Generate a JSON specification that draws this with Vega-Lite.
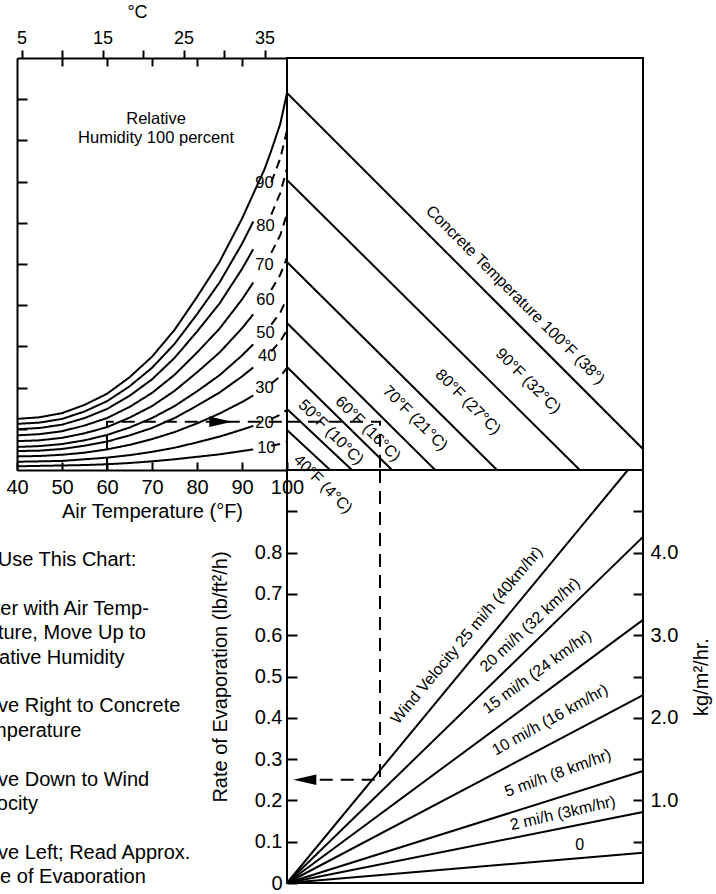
{
  "$schema": "https://vega.github.io/schema/vega-lite/v6.json",
  "background": "white",
  "padding": {"left": 0, "top": 3, "right": 0, "bottom": 0},
  "columns": 2,
  "spacing": 0,
  "bounds": "flush",
  "config": {
    "font": "Liberation Sans",
    "view": {"stroke": "black", "strokeWidth": 2},
    "axis": {
      "domainColor": "black", "domainWidth": 2, "tickColor": "black", "tickWidth": 2,
      "labelColor": "black", "titleColor": "black", "labelFontSize": 20, "titleFontSize": 20,
      "titleFontWeight": "normal", "labelOverlap": false, "labelFlush": false, "grid": false
    },
    "text": {"color": "black"},
    "line": {"color": "black", "strokeWidth": 2}
  },
  "datasets": {
    "rh": [
      {"rh": 100, "part": "solid", "airF": 40, "vp": 0.124}, {"rh": 100, "part": "solid", "airF": 45, "vp": 0.128},
      {"rh": 100, "part": "solid", "airF": 50, "vp": 0.138}, {"rh": 100, "part": "solid", "airF": 55, "vp": 0.158},
      {"rh": 100, "part": "solid", "airF": 60, "vp": 0.185}, {"rh": 100, "part": "solid", "airF": 65, "vp": 0.225},
      {"rh": 100, "part": "solid", "airF": 70, "vp": 0.275}, {"rh": 100, "part": "solid", "airF": 75, "vp": 0.34},
      {"rh": 100, "part": "solid", "airF": 80, "vp": 0.42}, {"rh": 100, "part": "solid", "airF": 85, "vp": 0.505},
      {"rh": 100, "part": "solid", "airF": 90, "vp": 0.61}, {"rh": 100, "part": "solid", "airF": 92.5, "vp": 0.67},
      {"rh": 100, "part": "solid", "airF": 95, "vp": 0.73}, {"rh": 100, "part": "solid", "airF": 96.5, "vp": 0.775},
      {"rh": 100, "part": "solid", "airF": 98.5, "vp": 0.84}, {"rh": 100, "part": "solid", "airF": 100, "vp": 0.915},

      {"rh": 90, "part": "solid", "airF": 40, "vp": 0.112}, {"rh": 90, "part": "solid", "airF": 45, "vp": 0.115},
      {"rh": 90, "part": "solid", "airF": 50, "vp": 0.124}, {"rh": 90, "part": "solid", "airF": 55, "vp": 0.142},
      {"rh": 90, "part": "solid", "airF": 60, "vp": 0.167}, {"rh": 90, "part": "solid", "airF": 65, "vp": 0.203},
      {"rh": 90, "part": "solid", "airF": 70, "vp": 0.248}, {"rh": 90, "part": "solid", "airF": 75, "vp": 0.306},
      {"rh": 90, "part": "solid", "airF": 80, "vp": 0.378}, {"rh": 90, "part": "solid", "airF": 85, "vp": 0.455},
      {"rh": 90, "part": "solid", "airF": 90, "vp": 0.549}, {"rh": 90, "part": "solid", "airF": 92.5, "vp": 0.603},
      {"rh": 90, "part": "dashed", "airF": 96.5, "vp": 0.698}, {"rh": 90, "part": "dashed", "airF": 98.5, "vp": 0.756},
      {"rh": 90, "part": "dashed", "airF": 100, "vp": 0.824},

      {"rh": 80, "part": "solid", "airF": 40, "vp": 0.099}, {"rh": 80, "part": "solid", "airF": 45, "vp": 0.102},
      {"rh": 80, "part": "solid", "airF": 50, "vp": 0.11}, {"rh": 80, "part": "solid", "airF": 55, "vp": 0.126},
      {"rh": 80, "part": "solid", "airF": 60, "vp": 0.148}, {"rh": 80, "part": "solid", "airF": 65, "vp": 0.18},
      {"rh": 80, "part": "solid", "airF": 70, "vp": 0.22}, {"rh": 80, "part": "solid", "airF": 75, "vp": 0.272},
      {"rh": 80, "part": "solid", "airF": 80, "vp": 0.336}, {"rh": 80, "part": "solid", "airF": 85, "vp": 0.404},
      {"rh": 80, "part": "solid", "airF": 90, "vp": 0.488}, {"rh": 80, "part": "solid", "airF": 92.5, "vp": 0.536},
      {"rh": 80, "part": "dashed", "airF": 96.5, "vp": 0.62}, {"rh": 80, "part": "dashed", "airF": 98.5, "vp": 0.672},
      {"rh": 80, "part": "dashed", "airF": 100, "vp": 0.732},

      {"rh": 70, "part": "solid", "airF": 40, "vp": 0.084}, {"rh": 70, "part": "solid", "airF": 45, "vp": 0.087},
      {"rh": 70, "part": "solid", "airF": 50, "vp": 0.094}, {"rh": 70, "part": "solid", "airF": 55, "vp": 0.108},
      {"rh": 70, "part": "solid", "airF": 60, "vp": 0.126}, {"rh": 70, "part": "solid", "airF": 65, "vp": 0.153},
      {"rh": 70, "part": "solid", "airF": 70, "vp": 0.187}, {"rh": 70, "part": "solid", "airF": 75, "vp": 0.231},
      {"rh": 70, "part": "solid", "airF": 80, "vp": 0.285}, {"rh": 70, "part": "solid", "airF": 85, "vp": 0.343},
      {"rh": 70, "part": "solid", "airF": 90, "vp": 0.414}, {"rh": 70, "part": "solid", "airF": 92.5, "vp": 0.455},
      {"rh": 70, "part": "dashed", "airF": 96.5, "vp": 0.527}, {"rh": 70, "part": "dashed", "airF": 98.5, "vp": 0.57},
      {"rh": 70, "part": "dashed", "airF": 100, "vp": 0.622},

      {"rh": 60, "part": "solid", "airF": 40, "vp": 0.07}, {"rh": 60, "part": "solid", "airF": 45, "vp": 0.072},
      {"rh": 60, "part": "solid", "airF": 50, "vp": 0.078}, {"rh": 60, "part": "solid", "airF": 55, "vp": 0.089},
      {"rh": 60, "part": "solid", "airF": 60, "vp": 0.104}, {"rh": 60, "part": "solid", "airF": 65, "vp": 0.127},
      {"rh": 60, "part": "solid", "airF": 70, "vp": 0.155}, {"rh": 60, "part": "solid", "airF": 75, "vp": 0.192},
      {"rh": 60, "part": "solid", "airF": 80, "vp": 0.237}, {"rh": 60, "part": "solid", "airF": 85, "vp": 0.285},
      {"rh": 60, "part": "solid", "airF": 90, "vp": 0.344}, {"rh": 60, "part": "solid", "airF": 92.5, "vp": 0.378},
      {"rh": 60, "part": "dashed", "airF": 96.5, "vp": 0.437}, {"rh": 60, "part": "dashed", "airF": 98.5, "vp": 0.474},
      {"rh": 60, "part": "dashed", "airF": 100, "vp": 0.516},

      {"rh": 50, "part": "solid", "airF": 40, "vp": 0.056}, {"rh": 50, "part": "solid", "airF": 45, "vp": 0.058},
      {"rh": 50, "part": "solid", "airF": 50, "vp": 0.063}, {"rh": 50, "part": "solid", "airF": 55, "vp": 0.072},
      {"rh": 50, "part": "solid", "airF": 60, "vp": 0.085}, {"rh": 50, "part": "solid", "airF": 65, "vp": 0.103},
      {"rh": 50, "part": "solid", "airF": 70, "vp": 0.126}, {"rh": 50, "part": "solid", "airF": 75, "vp": 0.155},
      {"rh": 50, "part": "solid", "airF": 80, "vp": 0.191}, {"rh": 50, "part": "solid", "airF": 85, "vp": 0.23},
      {"rh": 50, "part": "solid", "airF": 90, "vp": 0.278}, {"rh": 50, "part": "solid", "airF": 92.5, "vp": 0.305},
      {"rh": 50, "part": "dashed", "airF": 96.5, "vp": 0.353}, {"rh": 50, "part": "dashed", "airF": 98.5, "vp": 0.382},
      {"rh": 50, "part": "dashed", "airF": 100, "vp": 0.417},

      {"rh": 40, "part": "solid", "airF": 40, "vp": 0.046}, {"rh": 40, "part": "solid", "airF": 45, "vp": 0.047},
      {"rh": 40, "part": "solid", "airF": 50, "vp": 0.051}, {"rh": 40, "part": "solid", "airF": 55, "vp": 0.059},
      {"rh": 40, "part": "solid", "airF": 60, "vp": 0.069}, {"rh": 40, "part": "solid", "airF": 65, "vp": 0.084},
      {"rh": 40, "part": "solid", "airF": 70, "vp": 0.102}, {"rh": 40, "part": "solid", "airF": 75, "vp": 0.126},
      {"rh": 40, "part": "solid", "airF": 80, "vp": 0.156}, {"rh": 40, "part": "solid", "airF": 85, "vp": 0.188},
      {"rh": 40, "part": "solid", "airF": 90, "vp": 0.227}, {"rh": 40, "part": "solid", "airF": 92.5, "vp": 0.249},
      {"rh": 40, "part": "dashed", "airF": 96.5, "vp": 0.288}, {"rh": 40, "part": "dashed", "airF": 98.5, "vp": 0.312},
      {"rh": 40, "part": "dashed", "airF": 100, "vp": 0.34},

      {"rh": 30, "part": "solid", "airF": 40, "vp": 0.033}, {"rh": 30, "part": "solid", "airF": 45, "vp": 0.034},
      {"rh": 30, "part": "solid", "airF": 50, "vp": 0.037}, {"rh": 30, "part": "solid", "airF": 55, "vp": 0.042},
      {"rh": 30, "part": "solid", "airF": 60, "vp": 0.05}, {"rh": 30, "part": "solid", "airF": 65, "vp": 0.061},
      {"rh": 30, "part": "solid", "airF": 70, "vp": 0.075}, {"rh": 30, "part": "solid", "airF": 75, "vp": 0.092},
      {"rh": 30, "part": "solid", "airF": 80, "vp": 0.113}, {"rh": 30, "part": "solid", "airF": 85, "vp": 0.137},
      {"rh": 30, "part": "solid", "airF": 90, "vp": 0.165}, {"rh": 30, "part": "solid", "airF": 92.5, "vp": 0.181},
      {"rh": 30, "part": "dashed", "airF": 96.5, "vp": 0.21}, {"rh": 30, "part": "dashed", "airF": 98.5, "vp": 0.227},
      {"rh": 30, "part": "dashed", "airF": 100, "vp": 0.248},

      {"rh": 20, "part": "solid", "airF": 40, "vp": 0.02}, {"rh": 20, "part": "solid", "airF": 45, "vp": 0.021},
      {"rh": 20, "part": "solid", "airF": 50, "vp": 0.022}, {"rh": 20, "part": "solid", "airF": 55, "vp": 0.026},
      {"rh": 20, "part": "solid", "airF": 60, "vp": 0.03}, {"rh": 20, "part": "solid", "airF": 65, "vp": 0.036},
      {"rh": 20, "part": "solid", "airF": 70, "vp": 0.044}, {"rh": 20, "part": "solid", "airF": 75, "vp": 0.054},
      {"rh": 20, "part": "solid", "airF": 80, "vp": 0.067}, {"rh": 20, "part": "solid", "airF": 85, "vp": 0.081},
      {"rh": 20, "part": "solid", "airF": 90, "vp": 0.098}, {"rh": 20, "part": "solid", "airF": 92.5, "vp": 0.107},
      {"rh": 20, "part": "dashed", "airF": 96.5, "vp": 0.124}, {"rh": 20, "part": "dashed", "airF": 98.5, "vp": 0.134},
      {"rh": 20, "part": "dashed", "airF": 100, "vp": 0.146},

      {"rh": 10, "part": "solid", "airF": 40, "vp": 0.009}, {"rh": 10, "part": "solid", "airF": 45, "vp": 0.01},
      {"rh": 10, "part": "solid", "airF": 50, "vp": 0.011}, {"rh": 10, "part": "solid", "airF": 55, "vp": 0.012},
      {"rh": 10, "part": "solid", "airF": 60, "vp": 0.014}, {"rh": 10, "part": "solid", "airF": 65, "vp": 0.017},
      {"rh": 10, "part": "solid", "airF": 70, "vp": 0.021}, {"rh": 10, "part": "solid", "airF": 75, "vp": 0.026},
      {"rh": 10, "part": "solid", "airF": 80, "vp": 0.032}, {"rh": 10, "part": "solid", "airF": 85, "vp": 0.038},
      {"rh": 10, "part": "solid", "airF": 90, "vp": 0.046}, {"rh": 10, "part": "solid", "airF": 92.5, "vp": 0.05},
      {"rh": 10, "part": "dashed", "airF": 96.5, "vp": 0.059}, {"rh": 10, "part": "dashed", "airF": 98.5, "vp": 0.063},
      {"rh": 10, "part": "dashed", "airF": 100, "vp": 0.069}
    ],
    "rhLabels": [
      {"label": "90", "airF": 95, "vp": 0.697},
      {"label": "80", "airF": 95.2, "vp": 0.592},
      {"label": "70", "airF": 95, "vp": 0.498},
      {"label": "60", "airF": 95.2, "vp": 0.413},
      {"label": "50", "airF": 95.2, "vp": 0.333},
      {"label": "40", "airF": 95.6, "vp": 0.277},
      {"label": "30", "airF": 95, "vp": 0.199},
      {"label": "20", "airF": 95, "vp": 0.114},
      {"label": "10", "airF": 95.4, "vp": 0.053}
    ],
    "rhTitle": [
      {"label": "Relative\nHumidity 100 percent", "airF": 70.9, "vp": 0.852}
    ],
    "concrete": [
      {"concreteF": 100, "h": 0, "v": 0.915}, {"concreteF": 100, "h": 8, "v": 0.051},
      {"concreteF": 90, "h": 0, "v": 0.704}, {"concreteF": 90, "h": 6.58, "v": 0},
      {"concreteF": 80, "h": 0, "v": 0.505}, {"concreteF": 80, "h": 4.72, "v": 0},
      {"concreteF": 70, "h": 0, "v": 0.357}, {"concreteF": 70, "h": 3.33, "v": 0},
      {"concreteF": 60, "h": 0, "v": 0.25}, {"concreteF": 60, "h": 2.36, "v": 0},
      {"concreteF": 50, "h": 0, "v": 0.148}, {"concreteF": 50, "h": 1.46, "v": 0},
      {"concreteF": 40, "h": 0, "v": 0.097}, {"concreteF": 40, "h": 0.97, "v": 0}
    ],
    "concreteLabels": [
      {"label": "Concrete Temperature 100°F (38°)", "h": 5.13, "v": 0.425},
      {"label": "90°F (32°C)", "h": 5.42, "v": 0.216},
      {"label": "80°F (27°C)", "h": 4.07, "v": 0.165},
      {"label": "70°F (21°C)", "h": 2.88, "v": 0.126},
      {"label": "60°F (16°C)", "h": 1.82, "v": 0.1},
      {"label": "50°F (10°C)", "h": 0.99, "v": 0.092},
      {"label": "40°F (4°C)", "h": 0.81, "v": -0.034}
    ],
    "wind": [
      {"mph": 25, "h": 0, "v": 0}, {"mph": 25, "h": 7.66, "v": 1},
      {"mph": 20, "h": 0, "v": 0}, {"mph": 20, "h": 8, "v": 0.838},
      {"mph": 15, "h": 0, "v": 0}, {"mph": 15, "h": 8, "v": 0.637},
      {"mph": 10, "h": 0, "v": 0}, {"mph": 10, "h": 8, "v": 0.455},
      {"mph": 5, "h": 0, "v": 0}, {"mph": 5, "h": 8, "v": 0.271},
      {"mph": 2, "h": 0, "v": 0}, {"mph": 2, "h": 8, "v": 0.172},
      {"mph": 0, "h": 0, "v": 0}, {"mph": 0, "h": 8, "v": 0.073}
    ],
    "windLabels": [
      {"mph": 25, "label": "Wind Velocity 25 mi/h (40km/hr)", "h": 4.04, "v": 0.6},
      {"mph": 20, "label": "20 mi/h (32 km/hr)", "h": 5.46, "v": 0.625},
      {"mph": 15, "label": "15 mi/h (24 km/hr)", "h": 5.62, "v": 0.511},
      {"mph": 10, "label": "10 mi/h (16 km/hr)", "h": 5.91, "v": 0.395},
      {"mph": 5, "label": "5 mi/h (8 km/hr)", "h": 6.09, "v": 0.266},
      {"mph": 2, "label": "2 mi/h (3km/hr)", "h": 6.2, "v": 0.169},
      {"mph": 0, "label": "0", "h": 6.58, "v": 0.092}
    ],
    "examplePath": [
      {"panel": "air", "step": 1, "h": 60, "v": 0},
      {"panel": "air", "step": 2, "h": 60, "v": 0.117},
      {"panel": "air", "step": 3, "h": 100, "v": 0.117},
      {"panel": "concrete", "step": 1, "h": 0, "v": 0.117},
      {"panel": "concrete", "step": 2, "h": 2.09, "v": 0.117},
      {"panel": "concrete", "step": 3, "h": 2.09, "v": 0},
      {"panel": "evap", "step": 1, "h": 2.09, "v": 1},
      {"panel": "evap", "step": 2, "h": 2.09, "v": 0.25},
      {"panel": "evap", "step": 3, "h": 0.55, "v": 0.25}
    ],
    "arrows": [
      {"panel": "air", "h": 85.3, "v": 0.117},
      {"panel": "evap", "h": 0.4, "v": 0.25}
    ],
    "howTo": [
      {"line": 0, "indent": -3.5, "text": "How to Use This Chart:"},
      {"line": 2, "indent": -2.6, "text": "1. Enter with Air Temp-"},
      {"line": 3, "indent": -1.55, "text": "erature, Move Up to"},
      {"line": 4, "indent": -1.55, "text": "Relative Humidity"},
      {"line": 6, "indent": -2.6, "text": "2. Move Right to Concrete"},
      {"line": 7, "indent": -1.55, "text": "Temperature"},
      {"line": 9, "indent": -2.6, "text": "3. Move Down to Wind"},
      {"line": 10, "indent": -1.55, "text": "Velocity"},
      {"line": 12, "indent": -2.6, "text": "4. Move Left; Read Approx."},
      {"line": 13, "indent": -1.55, "text": "Rate of Evaporation"}
    ]
  },
  "concat": [
    {
      "width": 287,
      "height": 412,
      "view": {"stroke": null},
      "resolve": {"axis": {"x": "independent"}},
      "layer": [
        {
          "data": {"name": "rh"},
          "mark": {"type": "line", "strokeWidth": 2},
          "encoding": {
            "x": {
              "field": "airF", "type": "quantitative",
              "scale": {"domain": [40, 100], "range": [17, 287], "nice": false, "zero": false},
              "axis": {
                "orient": "bottom", "values": [40, 50, 60, 70, 80, 90, 100], "tickSize": -8,
                "labelPadding": 15, "title": "Air Temperature (°F)", "titlePadding": 4
              }
            },
            "y": {
              "field": "vp", "type": "quantitative",
              "scale": {"domain": [0, 1], "nice": false, "zero": false},
              "axis": {
                "orient": "left", "offset": -17, "values": [0.1, 0.2, 0.3, 0.4, 0.5, 0.6, 0.7, 0.8, 0.9],
                "tickSize": -10, "labels": false, "title": null
              }
            },
            "detail": {"field": "rh", "type": "nominal"},
            "strokeDash": {
              "field": "part", "type": "nominal",
              "scale": {"domain": ["solid", "dashed"], "range": [[1, 0], [9, 6]]},
              "legend": null
            },
            "order": {"field": "airF", "type": "quantitative"}
          }
        },
        {
          "data": {"name": "rhLabels"},
          "mark": {"type": "text", "fontSize": 16.5, "align": "center", "baseline": "middle"},
          "encoding": {
            "x": {
              "field": "airF", "type": "quantitative",
              "axis": {
                "orient": "top",
                "values": [41, 50, 59, 68, 77, 86, 95, 50.05, 60, 70, 80, 90],
                "tickSize": {"condition": {"test": "datum.value == 50.05 || datum.value == 60 || datum.value == 70 || datum.value == 80 || datum.value == 90", "value": -8}, "value": 8},
                "labelExpr": "datum.value == 41 ? '5' : datum.value == 59 ? '15' : datum.value == 77 ? '25' : datum.value == 95 ? '35' : ''",
                "labelFontSize": 18, "labelPadding": 3,
                "title": "°C", "titleFontSize": 18, "titleX": 137, "titlePadding": 8
              }
            },
            "y": {"field": "vp", "type": "quantitative"},
            "text": {"field": "label"}
          }
        },
        {
          "data": {"name": "rhTitle"},
          "mark": {"type": "text", "fontSize": 16.5, "align": "center", "baseline": "middle", "lineBreak": "\n", "lineHeight": 19},
          "encoding": {
            "x": {"field": "airF", "type": "quantitative", "axis": null},
            "y": {"field": "vp", "type": "quantitative"},
            "text": {"field": "label"}
          }
        },
        {
          "data": {"name": "examplePath"},
          "transform": [{"filter": "datum.panel == 'air'"}],
          "mark": {"type": "line", "strokeWidth": 2, "strokeDash": [13, 8]},
          "encoding": {
            "x": {"field": "h", "type": "quantitative", "axis": null},
            "y": {"field": "v", "type": "quantitative"},
            "order": {"field": "step", "type": "quantitative"}
          }
        },
        {
          "data": {"name": "arrows"},
          "transform": [{"filter": "datum.panel == 'air'"}],
          "mark": {"type": "point", "shape": "M1,0L-1,-0.45L-1,0.45Z", "size": 530, "filled": true, "color": "black", "opacity": 1},
          "encoding": {
            "x": {"field": "h", "type": "quantitative", "axis": null},
            "y": {"field": "v", "type": "quantitative"}
          }
        }
      ]
    },
    {
      "width": 356,
      "height": 412,
      "layer": [
        {
          "data": {"name": "concrete"},
          "mark": {"type": "line", "strokeWidth": 2},
          "encoding": {
            "x": {
              "field": "h", "type": "quantitative",
              "scale": {"domain": [0, 8], "nice": false, "zero": false},
              "axis": {"orient": "top", "values": [0.93, 1.94, 2.95, 3.97, 4.97, 5.99, 6.97], "tickSize": -9, "labels": false, "domain": false, "title": null}
            },
            "y": {
              "field": "v", "type": "quantitative",
              "scale": {"domain": [0, 1], "nice": false, "zero": false},
              "axis": {"orient": "right", "values": [0.1, 0.2, 0.3, 0.4, 0.5, 0.6, 0.7, 0.8, 0.9], "tickSize": -10, "labels": false, "domain": false, "title": null}
            },
            "detail": {"field": "concreteF", "type": "nominal"}
          }
        },
        {
          "data": {"name": "concreteLabels"},
          "mark": {"type": "text", "angle": 45, "fontSize": 16, "align": "center", "baseline": "middle"},
          "encoding": {
            "x": {"field": "h", "type": "quantitative", "axis": null},
            "y": {"field": "v", "type": "quantitative", "axis": null},
            "text": {"field": "label"}
          }
        },
        {
          "data": {"name": "examplePath"},
          "transform": [{"filter": "datum.panel == 'concrete'"}],
          "mark": {"type": "line", "strokeWidth": 2, "strokeDash": [13, 8]},
          "encoding": {
            "x": {"field": "h", "type": "quantitative", "axis": null},
            "y": {"field": "v", "type": "quantitative", "axis": null},
            "order": {"field": "step", "type": "quantitative"}
          }
        }
      ]
    },
    {
      "width": 287,
      "height": 413,
      "view": {"stroke": null},
      "data": {"name": "howTo"},
      "mark": {"type": "text", "align": "left", "baseline": "middle", "fontSize": 20, "clip": true},
      "encoding": {
        "x": {"field": "indent", "type": "quantitative", "scale": {"domain": [0, 14.35], "nice": false, "zero": false}, "axis": null},
        "y": {"field": "line", "type": "quantitative", "scale": {"domain": [-3.69, 13.24], "reverse": true, "nice": false, "zero": false}, "axis": null},
        "text": {"field": "text"}
      }
    },
    {
      "width": 356,
      "height": 413,
      "resolve": {"axis": {"y": "independent"}},
      "layer": [
        {
          "data": {"name": "wind"},
          "mark": {"type": "line", "strokeWidth": 2},
          "encoding": {
            "x": {
              "field": "h", "type": "quantitative",
              "scale": {"domain": [0, 8], "nice": false, "zero": false},
              "axis": {"orient": "bottom", "values": [0.74, 1.69, 2.61, 3.55, 4.49, 5.42, 6.36, 7.3], "tickSize": -8, "labels": false, "domain": false, "title": null}
            },
            "y": {
              "field": "v", "type": "quantitative",
              "scale": {"domain": [0, 1], "nice": false, "zero": false},
              "axis": {
                "orient": "left", "values": [0, 0.1, 0.2, 0.3, 0.4, 0.5, 0.6, 0.7, 0.8, 0.9], "tickSize": -10,
                "labelPadding": 15, "domain": false,
                "labelExpr": "datum.value == 0 ? '0' : datum.value > 0.85 ? '' : format(datum.value, '.1f')",
                "title": "Rate of Evaporation (lb/ft²/h)", "titlePadding": 24
              }
            },
            "detail": {"field": "mph", "type": "nominal"}
          }
        },
        {
          "data": {"name": "windLabels"},
          "mark": {"type": "text", "fontSize": 16, "align": "center", "baseline": "middle"},
          "encoding": {
            "x": {"field": "h", "type": "quantitative", "axis": null},
            "y": {
              "field": "v", "type": "quantitative",
              "axis": {
                "orient": "right", "values": [0.1, 0.2, 0.3, 0.4, 0.5, 0.6, 0.7, 0.8, 0.9], "tickSize": -10,
                "labelPadding": 17, "domain": false,
                "labelExpr": "datum.value == 0.2 ? '1.0' : datum.value == 0.4 ? '2.0' : datum.value == 0.6 ? '3.0' : datum.value == 0.8 ? '4.0' : ''",
                "title": "kg/m²/hr.", "titleAngle": -90, "titlePadding": 34
              }
            },
            "angle": {
              "field": "mph", "type": "quantitative",
              "scale": {"domain": [0, 2, 5, 10, 15, 20, 25], "range": [0, -13, -20, -29, -36, -43, -50]}
            },
            "text": {"field": "label"}
          }
        },
        {
          "data": {"name": "examplePath"},
          "transform": [{"filter": "datum.panel == 'evap'"}],
          "mark": {"type": "line", "strokeWidth": 2, "strokeDash": [13, 8]},
          "encoding": {
            "x": {"field": "h", "type": "quantitative", "axis": null},
            "y": {"field": "v", "type": "quantitative", "axis": null},
            "order": {"field": "step", "type": "quantitative"}
          }
        },
        {
          "data": {"name": "arrows"},
          "transform": [{"filter": "datum.panel == 'evap'"}],
          "mark": {"type": "point", "shape": "M-1,0L1,-0.45L1,0.45Z", "size": 530, "filled": true, "color": "black", "opacity": 1},
          "encoding": {
            "x": {"field": "h", "type": "quantitative", "axis": null},
            "y": {"field": "v", "type": "quantitative", "axis": null}
          }
        }
      ]
    }
  ]
}
